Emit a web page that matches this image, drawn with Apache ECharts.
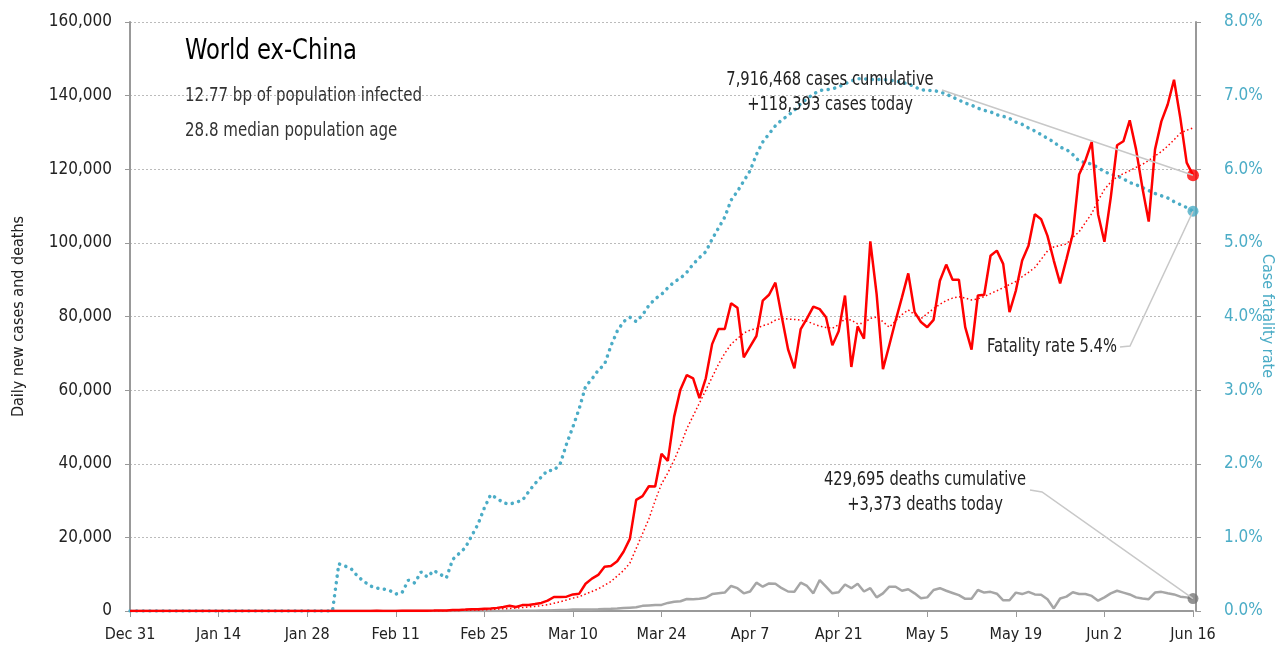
<!DOCTYPE html>
<html>
<head>
<meta charset="utf-8">
<title>World ex-China</title>
<style>
    html, body { margin: 0; padding: 0; background: #fff; }
    #main { width: 1285px; height: 652px; }
</style>
</head>
<body>
<div id="main"></div>
<script src="https://cdn.jsdelivr.net/npm/echarts@6/dist/echarts.min.js"></script>
<script>
    // days since Dec 31 2019, one point per day up to Jun 16
    var startDate = new Date(2019, 11, 31);
    var monthNames = ['Jan', 'Feb', 'Mar', 'Apr', 'May', 'Jun', 'Jul', 'Aug', 'Sep', 'Oct', 'Nov', 'Dec'];
    var dayCount = 169;
    var dates = [];
    for (var i = 0; i < dayCount; i++) {
        var dt = new Date(startDate.getTime() + i * 86400000);
        dates.push(monthNames[dt.getMonth()] + ' ' + dt.getDate());
    }

    // daily new cases (red)
    var cases = [
        0, 0, 0, 0, 0, 0, 0, 0, 0, 0,
        0, 0, 0, 0, 0, 0, 0, 0, 0, 0,
        0, 0, 0, 0, 0, 0, 0, 0, 0, 0,
        5, 10, 15, 10, 20, 15, 20, 25, 30, 40,
        20, 30, 25, 50, 40, 70, 60, 80, 110, 150,
        140, 250, 300, 380, 500, 450, 600, 700, 850, 1100,
        1400, 1100, 1600, 1650, 1900, 2200, 2800, 3800, 3800, 3900,
        4500, 4700, 7400, 8800, 9800, 12000, 12200, 13500, 16100, 19600,
        30200, 31200, 33900, 33800, 42700, 40800, 52800, 60200, 64100, 63200,
        57800, 63200, 72500, 76600, 76600, 83600, 82400, 68900, 71800, 74700,
        84300, 85900, 89200, 80000, 71100, 65900, 76600, 79500, 82700, 82000,
        79800, 72200, 76000, 85700, 66300, 77300, 74000, 100400, 86100, 65700,
        72200, 78900, 85200, 91700, 81200, 78500, 77100, 79100, 89700, 94100,
        90000, 90000, 77100, 71000, 85700, 85900, 96500, 97900, 94300, 81200,
        87000, 95200, 99200, 107800, 106400, 101900, 95200, 89000, 95600, 102400,
        118600, 122400, 127400, 107800, 100300, 112300, 126500, 127600, 133300, 125400,
        115000, 105800, 125400, 133000, 137600, 144300, 133900, 121800, 118393
    ];

    // smoothed cases (red dotted)
    var casesAvg = [
        0, 0, 0, 0, 0, 0, 0, 0, 0, 0,
        0, 0, 0, 0, 0, 0, 0, 0, 0, 0,
        0, 0, 0, 0, 0, 0, 0, 0, 0, 0,
        1, 3, 5, 7, 9, 11, 13, 16, 19, 22,
        24, 26, 28, 30, 33, 38, 45, 52, 62, 78,
        95, 120, 155, 195, 240, 290, 350, 420, 510, 600,
        700, 800, 950, 1100, 1250, 1450, 1700, 2100, 2500, 3000,
        3500, 3900, 4600, 5300, 6000, 7000, 8000, 9500, 11000, 13000,
        17000, 21000, 25000, 30000, 34500, 37500, 41000, 45000, 49500, 53000,
        56500, 60000, 63500, 67000, 70000, 72500, 74000, 75500, 76300, 76700,
        77500, 78000, 79000, 79500, 79300, 79200, 79000, 78700, 78000, 77400,
        77000, 76800, 77800, 79400, 79000, 78000, 78200, 79500, 79800, 78600,
        77100, 78800, 80500, 81800, 80500, 79400, 80800, 82100, 83300, 84300,
        85000, 85400, 85000, 84500, 84800, 85400, 86200, 87000, 87800, 88700,
        89500, 90800, 92000, 93300, 95500, 97800, 98900, 99300, 99700, 101500,
        103000, 105500, 108000, 111500, 114500, 116500, 118000, 118800, 119600, 120500,
        121300, 122400, 123600, 124800, 126300, 128000, 129800, 130600, 131200
    ];

    // daily new deaths (grey)
    var deaths = [
        0, 0, 0, 0, 0, 0, 0, 0, 0, 0,
        0, 0, 0, 0, 0, 0, 0, 0, 0, 0,
        0, 0, 0, 0, 0, 0, 0, 0, 0, 0,
        0, 0, 0, 1, 0, 0, 0, 0, 0, 0,
        0, 0, 0, 1, 1, 2, 1, 2, 3, 4,
        4, 6, 8, 10, 12, 14, 16, 20, 25, 30,
        40, 45, 55, 70, 90, 120, 150, 200, 250, 300,
        380, 400, 420, 440, 460, 550, 620, 700, 800, 900,
        1000, 1400, 1500, 1600, 1650, 2200, 2500, 2650, 3250, 3200,
        3300, 3600, 4600, 4800, 5000, 6800, 6200, 4800, 5300, 7700,
        6600, 7500, 7400, 6200, 5300, 5250, 7700, 6800, 4800, 8400,
        6600, 4800, 5100, 7200, 6200, 7400, 5300, 6200, 3700, 4800,
        6600, 6600, 5500, 5900, 4800, 3450, 3700, 5700, 6200, 5500,
        4900, 4300, 3300, 3300, 5700, 5000, 5200, 4700, 2900, 2900,
        5000, 4600, 5200, 4500, 4400, 3200, 700, 3400, 3900, 5100,
        4600, 4600, 4100, 2800, 3700, 4800, 5500, 5000, 4500, 3700,
        3400, 3200, 5000, 5200, 4800, 4500, 3900, 3700, 3373
    ];

    // case fatality rate, % (teal, right axis)
    var fatality = [
        0, 0, 0, 0, 0, 0, 0, 0, 0, 0,
        0, 0, 0, 0, 0, 0, 0, 0, 0, 0,
        0, 0, 0, 0, 0, 0, 0, 0, 0, 0,
        0, 0, 0, 0.64, 0.61, 0.57, 0.47, 0.40, 0.34, 0.31,
        0.30, 0.28, 0.23, 0.25, 0.42, 0.38, 0.53, 0.46, 0.55, 0.50,
        0.45, 0.70, 0.78, 0.86, 1.02, 1.18, 1.40, 1.58, 1.53, 1.47,
        1.45, 1.48, 1.50, 1.62, 1.73, 1.82, 1.91, 1.91, 2.00, 2.27,
        2.50, 2.75, 3.05, 3.15, 3.27, 3.35, 3.60, 3.80, 3.93, 3.99,
        3.93, 4.02, 4.15, 4.24, 4.30, 4.39, 4.47, 4.52, 4.60, 4.71,
        4.80, 4.88, 5.05, 5.20, 5.35, 5.58, 5.70, 5.84, 5.98, 6.20,
        6.37, 6.48, 6.59, 6.67, 6.73, 6.80, 6.89, 6.96, 7.02, 7.07,
        7.08, 7.09, 7.12, 7.16, 7.20, 7.23, 7.23, 7.22, 7.22, 7.22,
        7.21, 7.20, 7.18, 7.16, 7.12, 7.08, 7.07, 7.07, 7.05, 7.02,
        6.98, 6.94, 6.90, 6.87, 6.83, 6.80, 6.78, 6.74, 6.72, 6.69,
        6.64, 6.61, 6.56, 6.52, 6.47, 6.42, 6.37, 6.30, 6.27, 6.20,
        6.11, 6.09, 6.07, 6.02, 5.97, 5.93, 5.91, 5.87, 5.82, 5.79,
        5.75, 5.71, 5.67, 5.64, 5.61, 5.56, 5.52, 5.48, 5.43
    ];

    var leftTicks = [0, 20000, 40000, 60000, 80000, 100000, 120000, 140000, 160000];

    var FONT = '"Liberation Sans Narrow", "DejaVu Sans Condensed", "Noto Sans", sans-serif';
    var RED = '#ff0000';
    var TEAL = '#4bacc6';
    var GREY = '#a6a6a6';
    var last = dayCount - 1;

    var myChart = echarts.init(document.getElementById('main'));

    var option = {
        animation: false,
        backgroundColor: '#fff',
        textStyle: { fontFamily: FONT },
        grid: { left: 130, right: 92, top: 22, bottom: 41, outerBoundsMode: 'none', containLabel: false },
        xAxis: {
            type: 'category',
            data: dates,
            boundaryGap: false,
            axisLine: { lineStyle: { color: '#999', width: 2 } },
            axisTick: { interval: 13, length: 6, lineStyle: { color: '#999' } },
            axisLabel: { interval: 13, margin: 16, color: '#222', fontSize: 16, fontFamily: FONT },
            splitLine: { show: false }
        },
        yAxis: [{
            type: 'value',
            min: 0,
            max: leftTicks[leftTicks.length - 1],
            interval: leftTicks[1] - leftTicks[0],
            name: 'Daily new cases and deaths',
            nameLocation: 'middle',
            nameGap: 103,
            nameRotate: 90,
            nameTextStyle: { color: '#222', fontSize: 16, fontFamily: FONT },
            axisLine: { show: true, lineStyle: { color: '#999', width: 2 } },
            axisTick: { show: true, length: 5, lineStyle: { color: '#999' } },
            axisLabel: {
                margin: 18, color: '#222', fontSize: 17, fontFamily: FONT,
                formatter: function (v) { return v.toLocaleString('en-US'); }
            },
            splitLine: { lineStyle: { color: '#bbb', type: [2, 2], width: 1 } }
        }, {
            type: 'value',
            min: 0,
            max: 8,
            interval: 1,
            position: 'right',
            offset: 3,
            axisLine: { show: true, lineStyle: { color: '#999', width: 2 } },
            axisTick: { show: true, length: 5, lineStyle: { color: '#999' } },
            axisLabel: {
                margin: 28, color: TEAL, fontSize: 17, fontFamily: FONT,
                formatter: function (v) { return v.toFixed(1) + '%'; }
            },
            splitLine: { show: false }
        }],
        series: [
            {
                name: 'Deaths', type: 'line', data: deaths, showSymbol: false, z: 2,
                lineStyle: { color: GREY, width: 2.5 }
            },
            {
                name: 'Fatality rate', type: 'line', yAxisIndex: 1, data: fatality, showSymbol: false, z: 3,
                lineStyle: { color: TEAL, width: 3.5, type: [0.1, 6.5], cap: 'round' }
            },
            {
                name: 'Cases avg', type: 'line', data: casesAvg, showSymbol: false, z: 4,
                lineStyle: { color: RED, width: 1.5, type: [1.5, 2.5] }
            },
            {
                name: 'Cases', type: 'line', data: cases, showSymbol: false, z: 5,
                lineStyle: { color: RED, width: 2.5 }
            },
            {
                type: 'scatter', data: [[last, deaths[last]]], symbolSize: 11, z: 6,
                itemStyle: { color: '#777' }
            },
            {
                type: 'scatter', yAxisIndex: 1, data: [[last, fatality[last]]], symbolSize: 11, z: 6,
                itemStyle: { color: TEAL }
            },
            {
                type: 'scatter', data: [[last, cases[last]]], symbolSize: 12, z: 6,
                itemStyle: { color: RED }
            }
        ]
    };
    myChart.setOption(option);

    // annotations and leader lines, anchored to the end points
    var pCases = myChart.convertToPixel({ xAxisIndex: 0, yAxisIndex: 0 }, [last, cases[last]]);
    var pDeaths = myChart.convertToPixel({ xAxisIndex: 0, yAxisIndex: 0 }, [last, deaths[last]]);
    var pRate = myChart.convertToPixel({ xAxisIndex: 0, yAxisIndex: 1 }, [last, fatality[last]]);

    // condensed look: squeeze the text horizontally
    function txt(x, y, s, size, align, color, sx) {
        return {
            type: 'text', x: x, y: y, z: 20,
            scaleX: sx || 0.86,
            style: {
                text: s, font: size + 'px ' + FONT, fill: color || '#222',
                textAlign: align || 'left', textVerticalAlign: 'middle'
            }
        };
    }
    function leader(points) {
        return {
            type: 'polyline', z: 15,
            shape: { points: points },
            style: { stroke: '#c8c8c8', lineWidth: 1.5, fill: null }
        };
    }

    myChart.setOption({
        graphic: [
            txt(185, 52, 'World ex-China', 28, 'left', '#000', 0.9),
            txt(185, 96, '12.77 bp of population infected', 19, 'left', '#333', 0.88),
            txt(185, 131, '28.8 median population age', 19, 'left', '#333', 0.88),
            txt(830, 80, '7,916,468 cases cumulative', 19, 'center'),
            txt(830, 105, '+118,393 cases today', 19, 'center'),
            leader([[942, 90], pCases]),
            txt(1052, 347, 'Fatality rate 5.4%', 19, 'center'),
            leader([[1120, 347], [1130, 346], pRate]),
            txt(925, 480, '429,695 deaths cumulative', 19, 'center'),
            txt(925, 505, '+3,373 deaths today', 19, 'center'),
            leader([[1030, 490], [1042, 492], pDeaths]),
            {
                // right axis title, reading top to bottom
                type: 'text', x: 1267, y: 316, rotation: -Math.PI / 2, z: 20,
                style: {
                    text: 'Case fatality rate', font: '16px ' + FONT, fill: TEAL,
                    textAlign: 'center', textVerticalAlign: 'middle'
                }
            }
        ]
    });
</script>
</body>
</html>
